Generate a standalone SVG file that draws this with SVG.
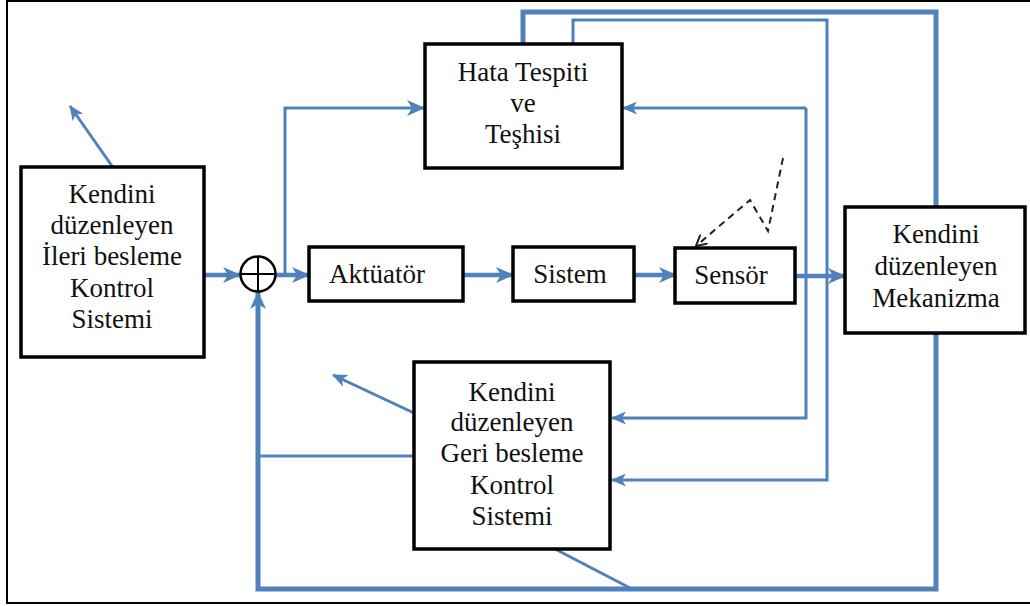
<svg xmlns="http://www.w3.org/2000/svg" width="1030" height="606" viewBox="0 0 1030 606" font-family="'Liberation Serif', 'DejaVu Serif', serif">
  <style>
    .box { fill: #ffffff; stroke: #000000; stroke-width: 3.5; }
    .lbl { font-size: 27px; fill: #111111; text-anchor: middle; }
    .wire { fill: none; stroke: #4f81bd; stroke-linejoin: miter; }
    .w3 { stroke-width: 3; }
    .w4 { stroke-width: 4.5; }
    .w5 { stroke-width: 5; }
    .dash { fill: none; stroke: #222222; stroke-width: 2; stroke-dasharray: 7 5; }
  </style>
  <defs>
    <marker id="ah" markerUnits="userSpaceOnUse" markerWidth="15" markerHeight="13" refX="14" refY="6.5" orient="auto">
      <path d="M0,0 L15,6.5 L0,13 L4,6.5 z" fill="#4f81bd"/>
    </marker>
    <marker id="ahBig" markerUnits="userSpaceOnUse" markerWidth="18" markerHeight="16" refX="17" refY="8" orient="auto">
      <path d="M0,0 L18,8 L0,16 L5,8 z" fill="#4f81bd"/>
    </marker>
    <marker id="ahDash" markerUnits="userSpaceOnUse" markerWidth="12" markerHeight="12" refX="11" refY="6" orient="auto">
      <path d="M0,0 L11,6 L0,12" fill="none" stroke="#222222" stroke-width="2"/>
    </marker>
  </defs>

  <rect x="0" y="0" width="1030" height="606" fill="#ffffff"/>
  <!-- outer frame -->
  <polyline points="1030,1 7,1 7,603 1030,603" fill="none" stroke="#000000" stroke-width="2"/>

  <g id="connectors">
    <!-- main forward path -->
    <line class="wire w4" x1="204" y1="275" x2="240" y2="275" marker-end="url(#ahBig)"/>
    <line class="wire w4" x1="276" y1="275" x2="309" y2="275" marker-end="url(#ahBig)"/>
    <line class="wire w4" x1="463" y1="275" x2="513" y2="275" marker-end="url(#ahBig)"/>
    <line class="wire w4" x1="634" y1="275" x2="676" y2="275" marker-end="url(#ahBig)"/>
    <line class="wire w4" x1="795" y1="276" x2="845" y2="276" marker-end="url(#ahBig)"/>

    <!-- branch to fault detection -->
    <polyline class="wire w3" points="285,275 285,108 424,108" marker-end="url(#ahBig)"/>

    <!-- feedback to summing junction -->
    <polyline class="wire w5" points="936,333 936,589 258,589 258,292" marker-end="url(#ahBig)"/>
    <line class="wire w3" x1="414" y1="456" x2="258" y2="456"/>
    <line class="wire w3" x1="555" y1="549" x2="632" y2="589"/>

    <!-- fault detection to adaptive mechanism -->
    <polyline class="wire w5" points="523,44 523,12 936,12 936,207"/>
    <polyline class="wire w3" points="573,44 573,20 827,20 827,480 612,480" marker-end="url(#ah)"/>
    <polyline class="wire w3" points="806,108 806,418 612,418" marker-end="url(#ah)"/>
    <polyline class="wire w3" points="806,108 623,108" marker-end="url(#ah)"/>

    <!-- adaptation outputs -->
    <line class="wire w3" x1="112" y1="166" x2="70" y2="106" marker-end="url(#ah)"/>
    <line class="wire w3" x1="414" y1="413" x2="333" y2="375" marker-end="url(#ah)"/>

    <!-- disturbance into sensor -->
    <polyline class="dash" points="783,158 768,231 750,200 696,246" marker-end="url(#ahDash)"/>
  </g>

  <g id="sum">
    <circle cx="258" cy="274" r="17.5" fill="#ffffff" stroke="#000000" stroke-width="2.5"/>
    <line x1="240.5" y1="274" x2="275.5" y2="274" stroke="#000000" stroke-width="2"/>
    <line x1="258" y1="256.5" x2="258" y2="291.5" stroke="#000000" stroke-width="2"/>
  </g>

  <g id="ileri-besleme">
    <rect class="box" x="21" y="167" width="183" height="190"/>
    <text class="lbl" x="112" y="203">Kendini</text>
    <text class="lbl" x="112" y="234">düzenleyen</text>
    <text class="lbl" x="112" y="265">İleri besleme</text>
    <text class="lbl" x="112" y="297">Kontrol</text>
    <text class="lbl" x="112" y="328">Sistemi</text>
  </g>

  <g id="hata-tespiti">
    <rect class="box" x="425" y="44" width="197" height="124"/>
    <text class="lbl" x="523" y="81">Hata Tespiti</text>
    <text class="lbl" x="523" y="112">ve</text>
    <text class="lbl" x="523" y="143">Teşhisi</text>
  </g>

  <g id="aktuator">
    <rect class="box" x="309" y="247" width="154" height="54"/>
    <text class="lbl" x="377" y="283">Aktüatör</text>
  </g>

  <g id="sistem">
    <rect class="box" x="513" y="247" width="121" height="54"/>
    <text class="lbl" x="570" y="283">Sistem</text>
  </g>

  <g id="sensor">
    <rect class="box" x="675" y="248" width="120" height="55"/>
    <text class="lbl" x="731" y="284">Sensör</text>
  </g>

  <g id="mekanizma">
    <rect class="box" x="845" y="207" width="180" height="126"/>
    <text class="lbl" x="936" y="243">Kendini</text>
    <text class="lbl" x="936" y="275">düzenleyen</text>
    <text class="lbl" x="936" y="307">Mekanizma</text>
  </g>

  <g id="geri-besleme">
    <rect class="box" x="414" y="362" width="196" height="187"/>
    <text class="lbl" x="512" y="401">Kendini</text>
    <text class="lbl" x="512" y="431">düzenleyen</text>
    <text class="lbl" x="512" y="462">Geri besleme</text>
    <text class="lbl" x="512" y="494">Kontrol</text>
    <text class="lbl" x="512" y="525">Sistemi</text>
  </g>
</svg>
